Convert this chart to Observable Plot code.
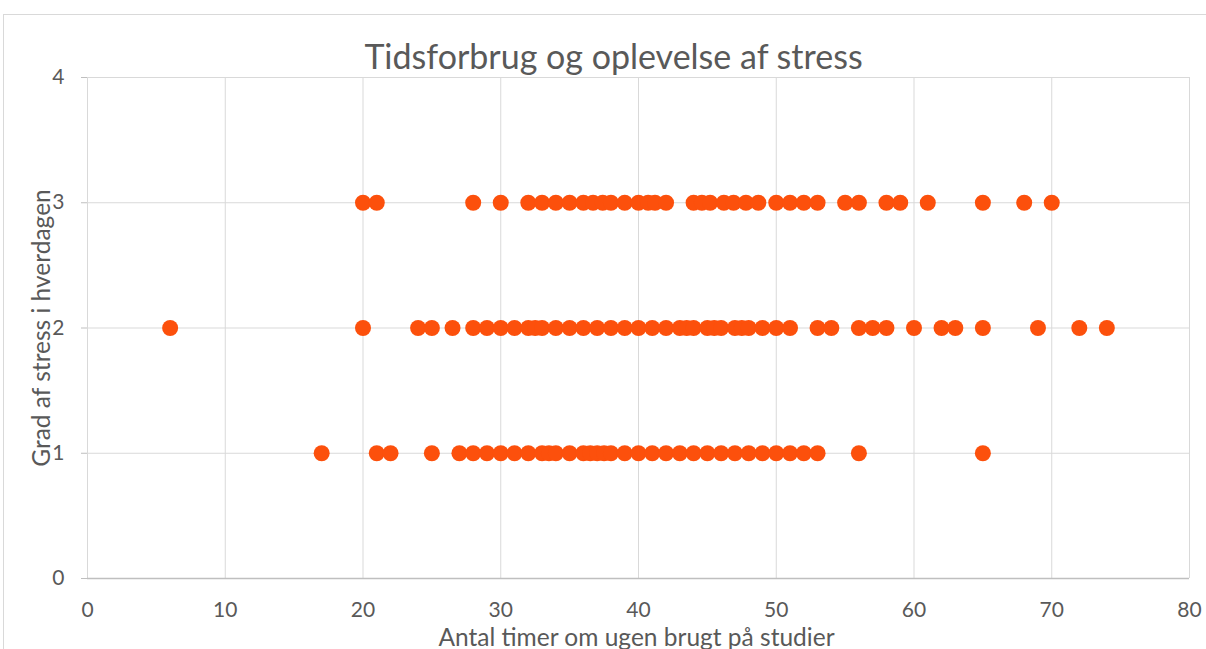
<!DOCTYPE html>
<html>
<head>
<meta charset="utf-8">
<script src="https://cdn.jsdelivr.net/npm/d3@7"></script>
<script src="https://cdn.jsdelivr.net/npm/@observablehq/plot@0.6"></script>
<style>
  html, body { margin: 0; padding: 0; background: #fff; overflow: hidden; }
  svg { display: block; }
</style>
</head>
<body>
<div id="chart"></div>
<script>
const title = "Tidsforbrug og oplevelse af stress";
const xTitle = "Antal timer om ugen brugt på studier";
const yTitle = "Grad af stress i hverdagen";
const xTicks = [0, 10, 20, 30, 40, 50, 60, 70, 80];
const yTicks = [0, 1, 2, 3, 4];

// hours per week for respondents at each stress level
const hoursStress1 = [17, 21, 22, 25, 27, 28, 29, 30, 31, 32, 33, 33.5, 34, 35, 36, 36.5, 37, 37.5, 38, 39, 40, 41, 42, 43, 44, 45, 46, 47, 48, 49, 50, 51, 52, 53, 56, 65];
const hoursStress2 = [6, 20, 24, 25, 26.5, 28, 29, 30, 31, 32, 32.5, 33, 34, 35, 36, 37, 38, 39, 40, 41, 42, 43, 43.5, 44, 45, 45.5, 46, 47, 47.5, 48, 49, 50, 51, 53, 54, 56, 57, 58, 60, 62, 63, 65, 69, 72, 74];
const hoursStress3 = [20, 21, 28, 30, 32, 33, 34, 35, 36, 36.7, 37.4, 38, 39, 40, 40.7, 41.2, 42, 44, 44.6, 45.2, 46.2, 46.9, 47.8, 48.7, 50, 51, 52, 53, 55, 56, 58, 59, 61, 65, 68, 70];

const data = [
  ...hoursStress1.map(h => ({hours: h, stress: 1})),
  ...hoursStress2.map(h => ({hours: h, stress: 2})),
  ...hoursStress3.map(h => ({hours: h, stress: 3}))
];

const FONT = "Lato, 'Open Sans', sans-serif";
const TXT = "#595959";

const chart = Plot.plot({
  width: 1206,
  height: 649,
  marginLeft: 87,
  marginRight: 17,
  marginTop: 77,
  marginBottom: 71,
  style: {fontFamily: FONT, background: "#fff", overflow: "visible"},
  x: {domain: [0, 80], ticks: xTicks},
  y: {domain: [0, 4], ticks: yTicks},
  marks: [
    Plot.gridX(xTicks, {stroke: "#d9d9d9", strokeOpacity: 1, strokeWidth: 1}),
    Plot.gridY(yTicks, {stroke: "#d9d9d9", strokeOpacity: 1, strokeWidth: 1}),
    Plot.ruleY([0], {stroke: "#bfbfbf", strokeWidth: 1.3}),
    Plot.axisY(yTicks, {tickSize: 6, tickFormat: () => "", color: "#bfbfbf", label: null}),
    Plot.axisY(yTicks, {tickSize: 0, tickPadding: 23, fontSize: 21, color: TXT, label: null, tickFormat: d3.format("d")}),
    Plot.axisX(xTicks, {tickSize: 0, tickPadding: 24, fontSize: 21, color: TXT, label: null, tickFormat: d3.format("d")}),
    Plot.dot(data, {x: "hours", y: "stress", r: 8, fill: "#fc500c", stroke: null}),
    Plot.text([title], {frameAnchor: "top", dx: -25, dy: -19, fontSize: 34, fill: TXT, lineAnchor: "middle"}),
    Plot.text([xTitle], {frameAnchor: "bottom", dx: -2, dy: 60, fontSize: 24.5, fill: TXT, lineAnchor: "middle"}),
    Plot.text([yTitle], {frameAnchor: "left", textAnchor: "middle", dx: -45, rotate: -90, fontSize: 24.5, fill: TXT, lineAnchor: "middle"})
  ]
});

d3.select(chart).insert("rect", ":first-child")
  .attr("x", 3.5).attr("y", 14.5).attr("width", 1210).attr("height", 650)
  .attr("fill", "none").attr("stroke", "#d9d9d9");

document.getElementById("chart").appendChild(chart);
</script>
</body>
</html>
